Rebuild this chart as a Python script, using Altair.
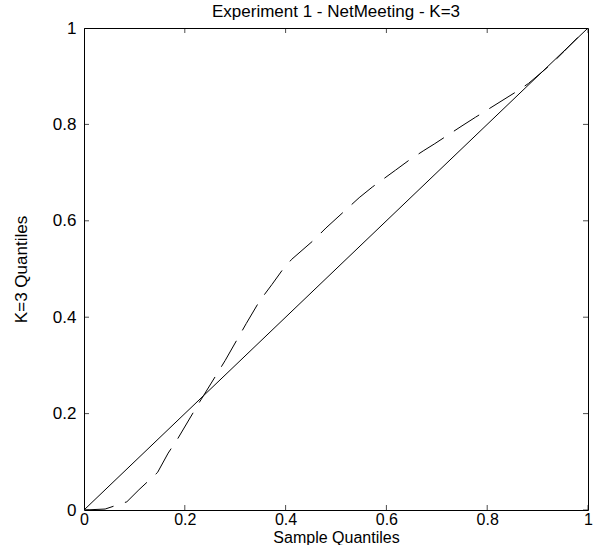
import altair as alt
import pandas as pd

# Q-Q data
sample_q = [0, 0.042, 0.085, 0.109, 0.146, 0.167, 0.186, 0.228, 0.237, 0.28, 0.322,
            0.348, 0.373, 0.393, 0.412, 0.456, 0.48, 0.546, 0.572, 0.618, 0.644,
            0.673, 0.696, 0.75, 0.777, 0.855, 0.882, 0.927, 0.953, 0.985, 1.0]
k3_q = [0, 0.002, 0.017, 0.042, 0.078, 0.118, 0.148, 0.222, 0.237, 0.31, 0.387,
        0.433, 0.468, 0.497, 0.52, 0.56, 0.585, 0.648, 0.67, 0.705, 0.725,
        0.745, 0.76, 0.797, 0.815, 0.866, 0.885, 0.925, 0.952, 0.986, 1.0]
diag_x = [0, 1]
diag_y = [0, 1]
tick_values = [0, 0.2, 0.4, 0.6, 0.8, 1]

FONT = "Liberation Sans"

qq = pd.DataFrame({"x": sample_q, "y": k3_q, "i": list(range(len(sample_q)))})
diag = pd.DataFrame({"x": diag_x, "y": diag_y})
ticks = pd.DataFrame({"t": tick_values})

xs = alt.Scale(domain=[0, 1], nice=False, zero=False)
ys = alt.Scale(domain=[0, 1], nice=False, zero=False)

xax = alt.Axis(values=tick_values, format="~g", title="Sample Quantiles", ticks=False,
               labelFontSize=16, titleFontSize=16, labelFont=FONT, titleFont=FONT,
               labelColor="black", titleColor="black", domain=False, grid=False,
               labelPadding=1, titlePadding=2, labelFlush=False, labelOverlap=False,
               titleFontWeight="normal")
yax = alt.Axis(values=tick_values, format="~g", title="K=3 Quantiles", ticks=False,
               labelFontSize=17, titleFontSize=17, labelFont=FONT, titleFont=FONT,
               labelColor="black", titleColor="black", domain=False, grid=False,
               labelPadding=8, titlePadding=22, labelFlush=False, labelOverlap=False,
               titleFontWeight="normal")

diag_line = alt.Chart(diag).mark_line(color="black", strokeWidth=1, clip=True).encode(
    x=alt.X("x:Q", scale=xs, axis=xax),
    y=alt.Y("y:Q", scale=ys, axis=yax),
)

qq_line = alt.Chart(qq).mark_line(color="black", strokeWidth=1, strokeDash=[30, 12], clip=True).encode(
    x=alt.X("x:Q", scale=xs),
    y=alt.Y("y:Q", scale=ys),
    order="i:Q",
)

tick_kw = dict(color="black", thickness=1, size=10, clip=True)
bottom_ticks = alt.Chart(ticks).mark_tick(orient="vertical", **tick_kw).encode(
    x=alt.X("t:Q", scale=xs), y=alt.datum(0))
top_ticks = alt.Chart(ticks).mark_tick(orient="vertical", **tick_kw).encode(
    x=alt.X("t:Q", scale=xs), y=alt.datum(1))
left_ticks = alt.Chart(ticks).mark_tick(orient="horizontal", **tick_kw).encode(
    y=alt.Y("t:Q", scale=ys), x=alt.datum(0))
right_ticks = alt.Chart(ticks).mark_tick(orient="horizontal", **tick_kw).encode(
    y=alt.Y("t:Q", scale=ys), x=alt.datum(1))

chart = alt.layer(diag_line, qq_line, bottom_ticks, top_ticks, left_ticks, right_ticks).properties(
    width=504, height=482,
    title=alt.TitleParams("Experiment 1 - NetMeeting - K=3", font=FONT, fontSize=17,
                          fontWeight="normal", color="black", offset=-2),
    autosize=alt.AutoSizeParams(type="none"),
    padding={"left": 84, "top": 28, "right": 20, "bottom": 35},
    background="white",
).configure_view(stroke="black", strokeWidth=1)

chart.save("out.html", embed_options={"renderer": "svg", "actions": False})
